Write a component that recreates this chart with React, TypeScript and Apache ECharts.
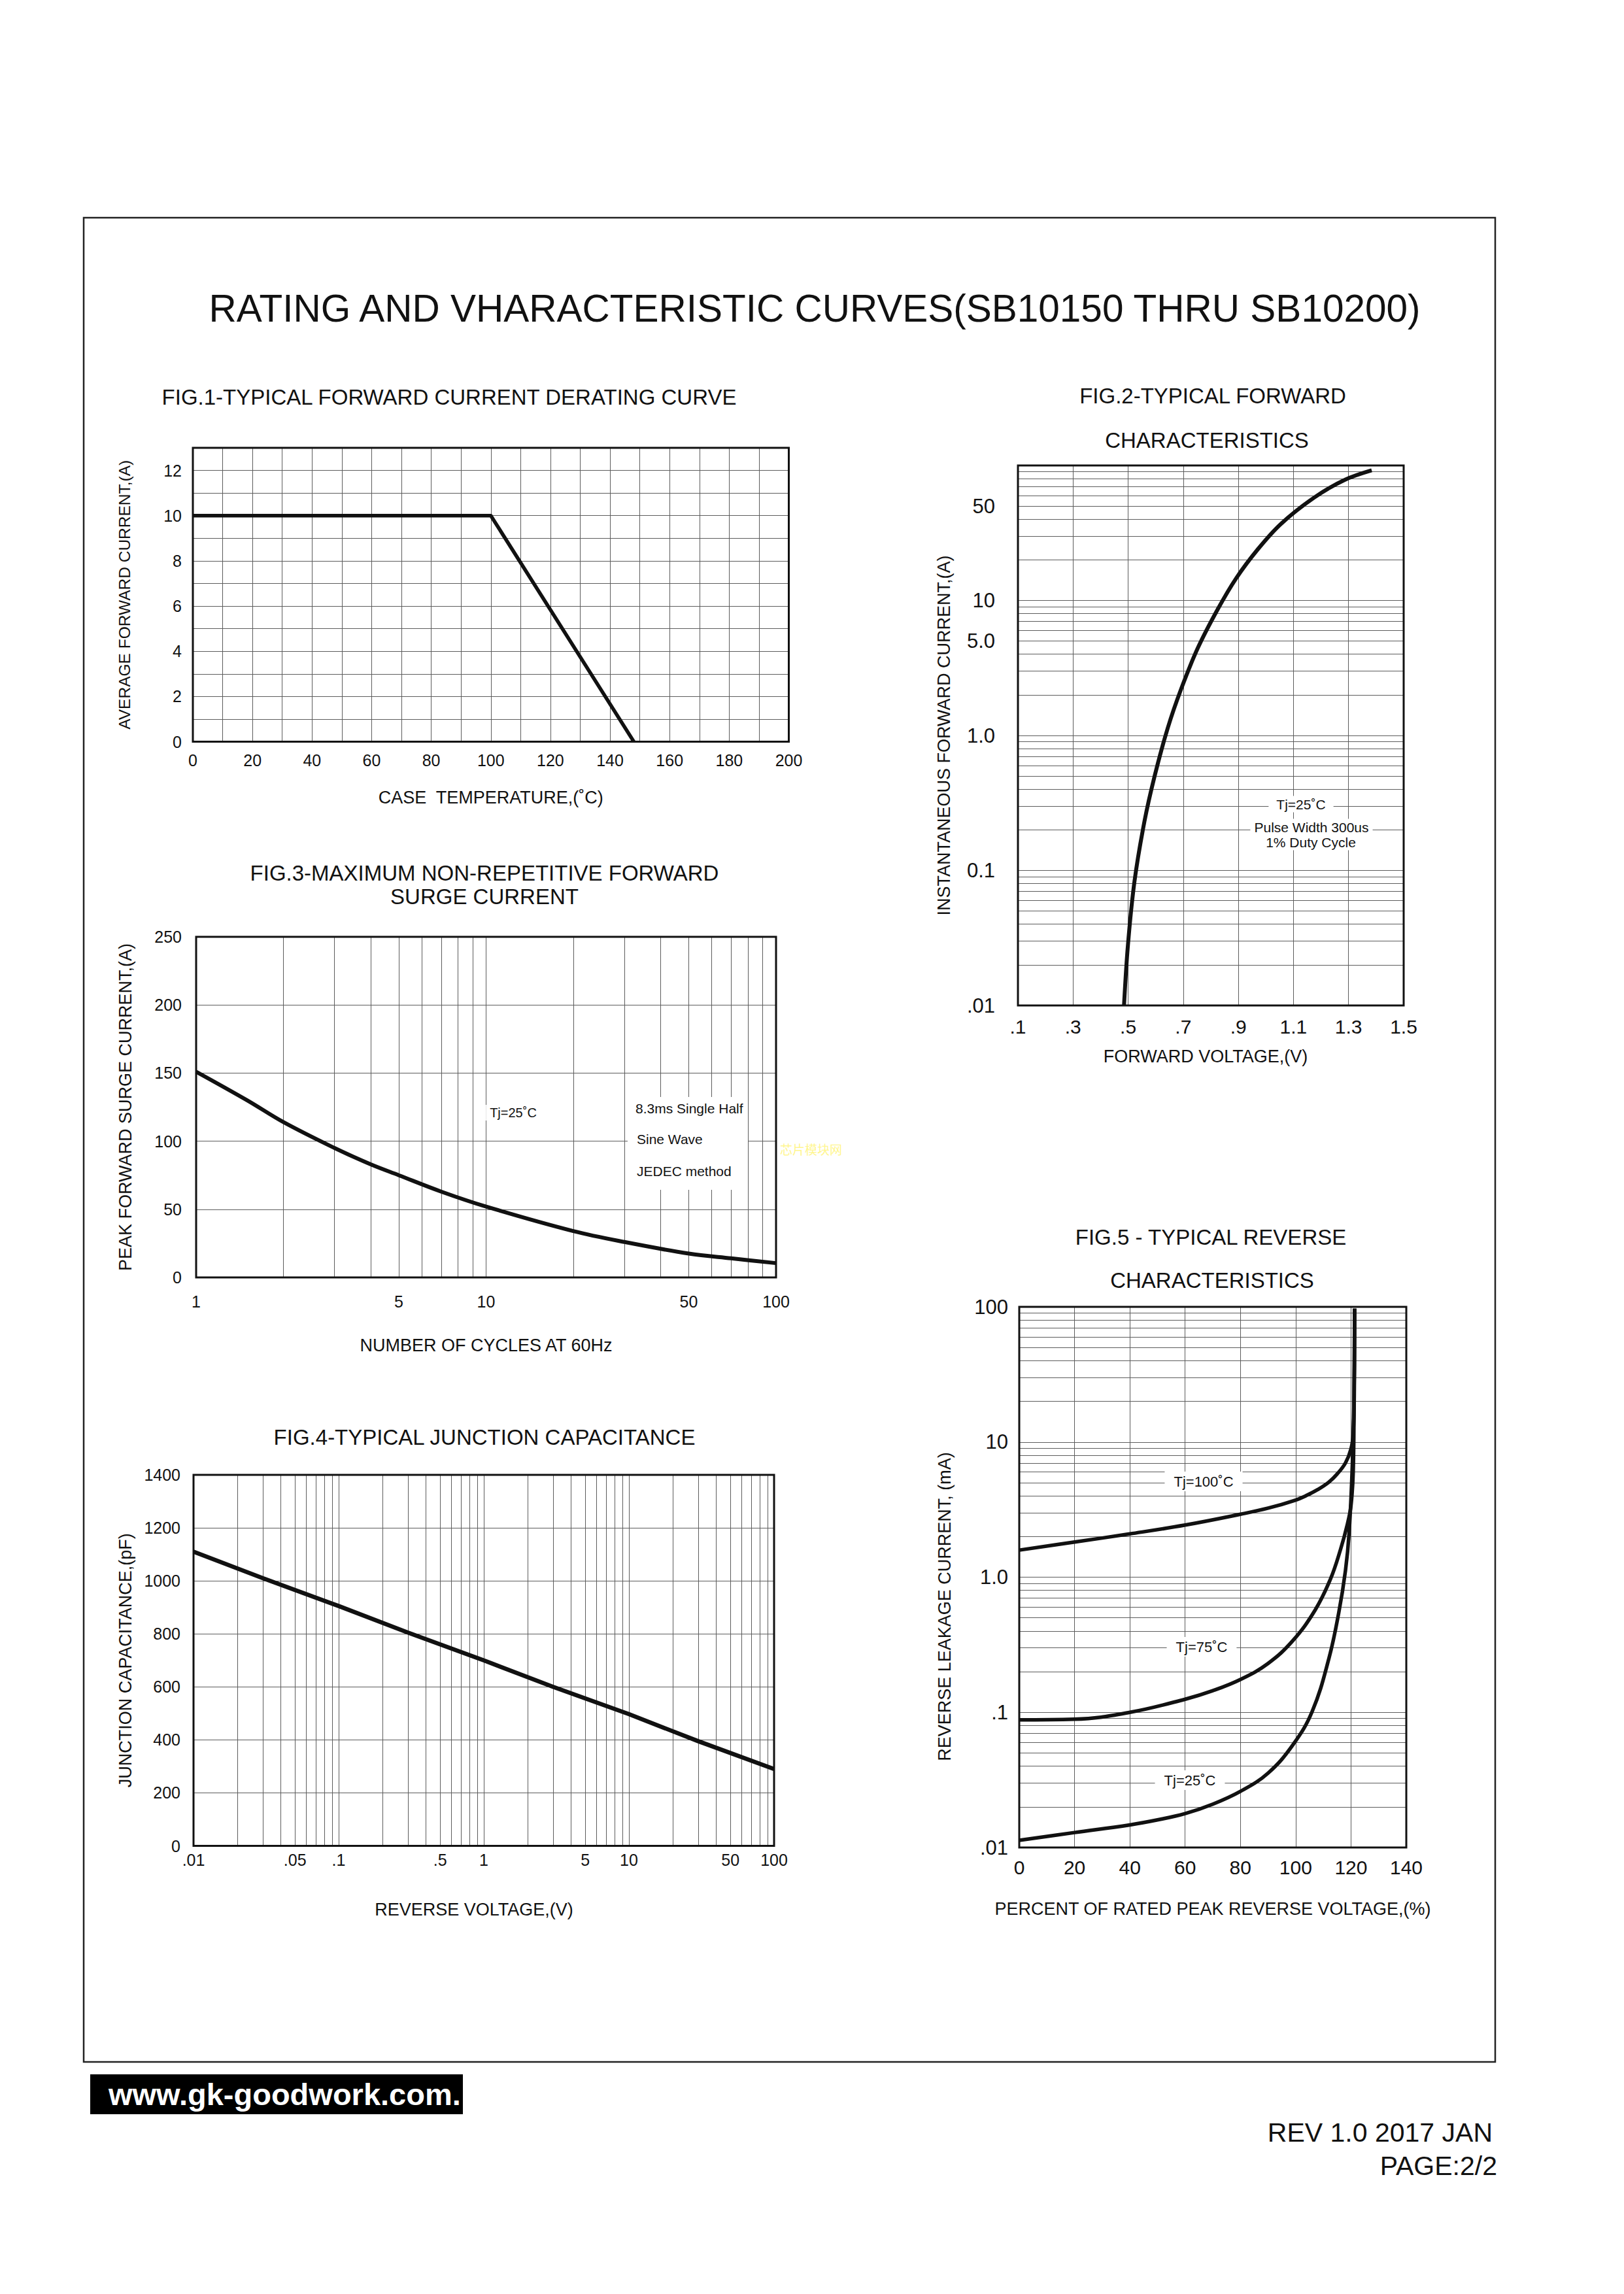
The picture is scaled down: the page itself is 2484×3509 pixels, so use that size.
import React, { useEffect, useRef } from 'react';
import * as echarts from 'echarts';

const FONT = '"Liberation Sans", Arial, Helvetica, sans-serif';
const INK = '#111111';
const GRID_COLOR = '#5c5c5c';

// ---------- FIG.1 typical forward current derating curve ----------
const fig1CaseTemp = [0, 100, 148];
const fig1AvgCurrent = [10, 10, 0];

// ---------- FIG.2 typical forward characteristics ----------
const fig2ForwardVoltage = [0.485, 0.499, 0.523, 0.559, 0.596, 0.644, 0.692, 0.753, 0.825, 0.892, 0.971, 1.055, 1.176, 1.285, 1.384];
const fig2ForwardCurrent = [0.01, 0.0277, 0.083, 0.23, 0.5, 1.14, 2.2, 4.45, 8.6, 14.6, 24, 37, 58, 78, 92];
const fig2YTickValues = [0.01, 0.1, 1, 5, 10, 50];
const fig2YTickLabels = ['.01', '0.1', '1.0', '5.0', '10', '50'];

// ---------- FIG.3 maximum non-repetitive forward surge current ----------
const fig3Cycles = [1, 1.5, 2, 3, 4, 5, 7, 10, 20, 30, 50, 70, 100];
const fig3SurgeCurrent = [151, 130, 114, 95, 83, 75, 63, 52, 34, 26, 17.5, 14, 10.5];
const fig3XTickValues = [1, 5, 10, 50, 100];
const fig3XTickLabels = ['1', '5', '10', '50', '100'];

// ---------- FIG.4 typical junction capacitance ----------
const fig4ReverseVoltage = [0.01, 0.03, 0.1, 0.3, 1, 3, 10, 30, 100];
const fig4Capacitance = [1110, 1010, 905, 805, 700, 600, 497, 395, 290];
const fig4XTickValues = [0.01, 0.05, 0.1, 0.5, 1, 5, 10, 50, 100];
const fig4XTickLabels = ['.01', '.05', '.1', '.5', '1', '5', '10', '50', '100'];

// ---------- FIG.5 typical reverse characteristics ----------
const fig5PctTj100 = [0, 20, 40, 60, 80, 90, 100, 104, 108, 112, 115, 118, 120, 120.8, 121.2, 121.3];
const fig5LeakTj100 = [1.585, 1.82, 2.09, 2.43, 2.92, 3.24, 3.72, 4.03, 4.45, 5.05, 5.8, 7.0, 8.9, 11.5, 25, 97];
const fig5PctTj75 = [0, 20, 40, 60, 70, 80, 90, 99, 107, 112.5, 116.2, 118.7, 120, 120.8, 121.1, 121.3];
const fig5LeakTj75 = [0.088, 0.089, 0.1, 0.125, 0.1445, 0.175, 0.23, 0.34, 0.57, 0.96, 1.6, 2.47, 3.4, 6, 20, 97];
const fig5PctTj25 = [0, 20, 40, 50, 60, 70, 80, 90, 99, 106, 112, 115.6, 118, 119.3, 120.5, 121.1, 121.3];
const fig5LeakTj25 = [0.0113, 0.0129, 0.0147, 0.016, 0.0178, 0.0209, 0.026, 0.0355, 0.0575, 0.102, 0.25, 0.55, 1.12, 2.1, 6.9, 22.6, 97];
const fig5YTickValues = [0.01, 0.1, 1, 10, 100];
const fig5YTickLabels = ['.01', '.1', '1.0', '10', '100'];

const LOG_MANTISSAS = [1, 2, 3, 4, 5, 6, 7, 8, 9];

const pairs = (xs: number[], ys: number[]) => xs.map((x, i) => [x, ys[i]]);

const lookup = (vals: number[], labels: string[]) => (v: number) => {
  const i = vals.findIndex((t) => Math.abs(t - v) <= Math.abs(t) * 1e-6);
  return i >= 0 ? labels[i] : '';
};

const plain = (v: number) => String(Math.round(v));

const logGridValues = (min: number, max: number) => {
  const out: number[] = [];
  for (let d = min; d < max * 0.999; d *= 10) {
    for (const m of LOG_MANTISSAS) {
      const v = parseFloat((m * d).toPrecision(6));
      if (v > min * 1.0001 && v < max * 0.9999) out.push(v);
    }
  }
  return out;
};

const labelStyle = (fontSize: number, margin: number, extra: any = {}) => ({
  show: true,
  fontFamily: FONT,
  fontSize,
  color: INK,
  margin,
  ...extra,
});

const nameStyle = (fontSize: number, padding?: number[]) => ({
  fontFamily: FONT,
  fontSize,
  color: INK,
  ...(padding ? { padding } : {}),
});

const splitOn = { show: true, lineStyle: { color: GRID_COLOR, width: 1, type: 'solid' } };
const off = { show: false };

const baseAxis = {
  axisLine: off,
  axisTick: off,
  minorTick: off,
  minorSplitLine: off,
  nameLocation: 'middle',
  nameMoveOverlap: false,
};

const gridLines = (idx: number, key: 'xAxis' | 'yAxis', values: number[]) => ({
  type: 'line',
  xAxisIndex: idx,
  yAxisIndex: idx,
  data: [],
  z: 1,
  silent: true,
  markLine: {
    silent: true,
    symbol: ['none', 'none'],
    animation: false,
    label: { show: false },
    emphasis: { disabled: true },
    lineStyle: { color: GRID_COLOR, width: 1, type: 'solid' },
    data: values.map((v) => ({ [key]: v })),
  },
});

const curve = (idx: number, data: number[][], width: number, smooth: number | boolean) => ({
  type: 'line',
  xAxisIndex: idx,
  yAxisIndex: idx,
  data,
  symbol: 'none',
  showSymbol: false,
  smooth,
  z: 10,
  silent: true,
  emphasis: { disabled: true },
  lineStyle: { color: INK, width, cap: 'butt', join: 'round' },
});

const txt = (text: string, x: number, y: number, fontSize: number, extra: any = {}) => ({
  type: 'text',
  x,
  y,
  z: 50,
  silent: true,
  style: {
    text,
    fill: INK,
    fontFamily: FONT,
    fontSize,
    align: 'center',
    verticalAlign: 'middle',
    ...extra,
  },
});

const whiteBg = (padH: number, padV = 2) => ({ backgroundColor: '#ffffff', padding: [padV, padH] });

const gridBox = (left: number, top: number, right: number, bottom: number) => ({
  left,
  top,
  width: right - left,
  height: bottom - top,
  show: true,
  borderColor: INK,
  borderWidth: 3,
  backgroundColor: 'transparent',
  containLabel: false,
  outerBoundsMode: 'none',
  z: 6,
});

function buildOption() {
  const grid = [
    gridBox(295, 685, 1206.5, 1134.5),
    gridBox(1557, 712, 2147, 1538),
    gridBox(300, 1433, 1187, 1954),
    gridBox(296, 2256, 1184, 2823.5),
    gridBox(1559, 1999, 2151, 2826),
  ];

  const xAxis = [
    {
      ...baseAxis,
      gridIndex: 0,
      type: 'value',
      min: 0,
      max: 200,
      interval: 10,
      splitLine: splitOn,
      axisLabel: labelStyle(25, 15.5, {
        formatter: (v: number) => (Math.round(v) % 20 === 0 ? plain(v) : ''),
      }),
      name: 'CASE  TEMPERATURE,(˚C)',
      nameGap: 72,
      nameTextStyle: nameStyle(27),
    },
    {
      ...baseAxis,
      gridIndex: 1,
      type: 'value',
      min: 0.1,
      max: 1.5,
      interval: 0.2,
      splitLine: splitOn,
      axisLabel: labelStyle(30, 17, {
        formatter: (v: number) => {
          const s = v.toFixed(1);
          return s.charAt(0) === '0' ? s.slice(1) : s;
        },
      }),
      name: 'FORWARD VOLTAGE,(V)',
      nameGap: 64.5,
      nameTextStyle: nameStyle(27, [0, 16, 0, 0]),
    },
    {
      ...baseAxis,
      gridIndex: 2,
      type: 'log',
      logBase: 10,
      min: 1,
      max: 100,
      splitLine: off,
      axisLabel: labelStyle(25, 24, {
        customValues: fig3XTickValues,
        formatter: lookup(fig3XTickValues, fig3XTickLabels),
      }),
      name: 'NUMBER OF CYCLES AT 60Hz',
      nameGap: 90,
      nameTextStyle: nameStyle(27),
    },
    {
      ...baseAxis,
      gridIndex: 3,
      type: 'log',
      logBase: 10,
      min: 0.01,
      max: 100,
      splitLine: off,
      axisLabel: labelStyle(25, 9, {
        customValues: fig4XTickValues,
        formatter: lookup(fig4XTickValues, fig4XTickLabels),
      }),
      name: 'REVERSE VOLTAGE,(V)',
      nameGap: 83.5,
      nameTextStyle: nameStyle(27, [0, 30, 0, 0]),
    },
    {
      ...baseAxis,
      gridIndex: 4,
      type: 'value',
      min: 0,
      max: 140,
      interval: 20,
      splitLine: splitOn,
      axisLabel: labelStyle(30, 15, { formatter: plain }),
      name: 'PERCENT OF RATED PEAK REVERSE VOLTAGE,(%)',
      nameGap: 80,
      nameTextStyle: nameStyle(27),
    },
  ];

  const yAxis = [
    {
      ...baseAxis,
      gridIndex: 0,
      type: 'value',
      min: 0,
      max: 13,
      interval: 1,
      splitLine: splitOn,
      axisLabel: labelStyle(25, 17, {
        formatter: (v: number) => (Math.round(v) % 2 === 0 ? plain(v) : ''),
      }),
      name: 'AVERAGE FORWARD CURRENT,(A)',
      nameGap: 92,
      nameTextStyle: nameStyle(24.5),
    },
    {
      ...baseAxis,
      gridIndex: 1,
      type: 'log',
      logBase: 10,
      min: 0.01,
      max: 100,
      splitLine: off,
      axisLabel: labelStyle(31, 35, {
        customValues: fig2YTickValues,
        formatter: lookup(fig2YTickValues, fig2YTickLabels),
      }),
      name: 'INSTANTANEOUS FORWARD CURRENT,(A)',
      nameGap: 100,
      nameTextStyle: nameStyle(27),
    },
    {
      ...baseAxis,
      gridIndex: 2,
      type: 'value',
      min: 0,
      max: 250,
      interval: 50,
      splitLine: splitOn,
      axisLabel: labelStyle(25, 22, { formatter: plain }),
      name: 'PEAK FORWARD SURGE CURRENT,(A)',
      nameGap: 95,
      nameTextStyle: nameStyle(27),
    },
    {
      ...baseAxis,
      gridIndex: 3,
      type: 'value',
      min: 0,
      max: 1400,
      interval: 200,
      splitLine: splitOn,
      axisLabel: labelStyle(25, 20, { formatter: plain }),
      name: 'JUNCTION CAPACITANCE,(pF)',
      nameGap: 91,
      nameTextStyle: nameStyle(27),
    },
    {
      ...baseAxis,
      gridIndex: 4,
      type: 'log',
      logBase: 10,
      min: 0.01,
      max: 100,
      splitLine: off,
      axisLabel: labelStyle(31, 17, {
        customValues: fig5YTickValues,
        formatter: lookup(fig5YTickValues, fig5YTickLabels),
      }),
      name: 'REVERSE LEAKAGE CURRENT, (mA)',
      nameGap: 101,
      nameTextStyle: nameStyle(27, [0, 90, 0, 0]),
    },
  ];

  const series = [
    gridLines(1, 'yAxis', logGridValues(0.01, 100)),
    gridLines(2, 'xAxis', logGridValues(1, 100)),
    gridLines(3, 'xAxis', logGridValues(0.01, 100)),
    gridLines(4, 'yAxis', logGridValues(0.01, 100)),
    { ...curve(0, pairs(fig1CaseTemp, fig1AvgCurrent), 5.5, false), name: 'Derating' },
    { ...curve(1, pairs(fig2ForwardVoltage, fig2ForwardCurrent), 6, 0.35), name: 'Forward' },
    { ...curve(2, pairs(fig3Cycles, fig3SurgeCurrent), 6, 0.35), name: 'Surge' },
    { ...curve(3, pairs(fig4ReverseVoltage, fig4Capacitance), 6.5, false), name: 'Capacitance' },
    { ...curve(4, pairs(fig5PctTj100, fig5LeakTj100), 5.5, 0.4), name: 'Tj=100˚C' },
    { ...curve(4, pairs(fig5PctTj75, fig5LeakTj75), 5.5, 0.4), name: 'Tj=75˚C' },
    { ...curve(4, pairs(fig5PctTj25, fig5LeakTj25), 5.5, 0.4), name: 'Tj=25˚C' },
  ];

  const graphicElements = [
    {
      type: 'rect',
      z: 0,
      silent: true,
      shape: { x: 128, y: 333, width: 2159, height: 2821 },
      style: { fill: 'none', stroke: '#222222', lineWidth: 2.5 },
    },
    txt('RATING AND VHARACTERISTIC CURVES(SB10150 THRU SB10200)', 1246, 471, 58.5),
    txt('FIG.1-TYPICAL FORWARD CURRENT DERATING CURVE', 687, 607, 33),
    txt('FIG.2-TYPICAL FORWARD', 1855, 605, 33),
    txt('CHARACTERISTICS', 1846, 673, 33),
    txt('FIG.3-MAXIMUM NON-REPETITIVE FORWARD', 741, 1335, 33),
    txt('SURGE CURRENT', 741, 1371, 33),
    txt('FIG.4-TYPICAL JUNCTION CAPACITANCE', 741, 2198, 33),
    txt('FIG.5 - TYPICAL REVERSE', 1852, 1892, 33),
    txt('CHARACTERISTICS', 1854, 1958, 33),
    // FIG.2 notes
    txt('Tj=25˚C', 1990, 1230, 21, whiteBg(12)),
    txt('Pulse Width 300us', 2006, 1265, 21, whiteBg(6)),
    txt('1% Duty Cycle', 2005, 1288, 21, whiteBg(6)),
    // FIG.3 notes
    {
      type: 'rect',
      z: 40,
      silent: true,
      shape: { x: 960, y: 1678, width: 184, height: 142 },
      style: { fill: '#ffffff' },
    },
    txt('Tj=25˚C', 785, 1702, 20, whiteBg(6)),
    txt('8.3ms Single Half', 972, 1695, 21, { align: 'left' }),
    txt('Sine Wave', 974, 1742, 21, { align: 'left' }),
    txt('JEDEC method', 974, 1791, 21, { align: 'left' }),
    txt('芯片模块网', 1193, 1757, 19, {
      align: 'left',
      fill: '#fff68f',
      fontFamily: '"Noto Sans CJK SC", sans-serif',
    }),
    // FIG.5 notes
    txt('Tj=100˚C', 1841, 2266, 22, whiteBg(14, 4)),
    txt('Tj=75˚C', 1838, 2519, 22, whiteBg(14, 4)),
    txt('Tj=25˚C', 1820, 2723, 22, whiteBg(14, 4)),
    // footer
    {
      type: 'rect',
      z: 40,
      silent: true,
      shape: { x: 138, y: 3173, width: 570, height: 61 },
      style: { fill: '#000000' },
    },
    txt('www.gk-goodwork.com.', 166, 3203, 47, { align: 'left', fill: '#ffffff', fontWeight: 'bold' }),
    txt('REV 1.0 2017 JAN', 2283, 3262, 41, { align: 'right' }),
    txt('PAGE:2/2', 2290, 3313, 41, { align: 'right' }),
  ];

  return {
    animation: false,
    backgroundColor: '#ffffff',
    textStyle: { fontFamily: FONT },
    grid,
    xAxis,
    yAxis,
    series,
    graphic: { elements: graphicElements },
  };
}

export default function App() {
  const ref = useRef<HTMLDivElement>(null);
  useEffect(() => {
    if (!ref.current) return;
    const chart = echarts.init(ref.current, null, { renderer: 'svg', width: 2484, height: 3509 });
    chart.setOption(buildOption() as any);
    return () => {
      chart.dispose();
    };
  }, []);
  return (
    <div
      ref={ref}
      style={{ position: 'absolute', left: 0, top: 0, width: 2484, height: 3509, background: '#ffffff' }}
    />
  );
}
